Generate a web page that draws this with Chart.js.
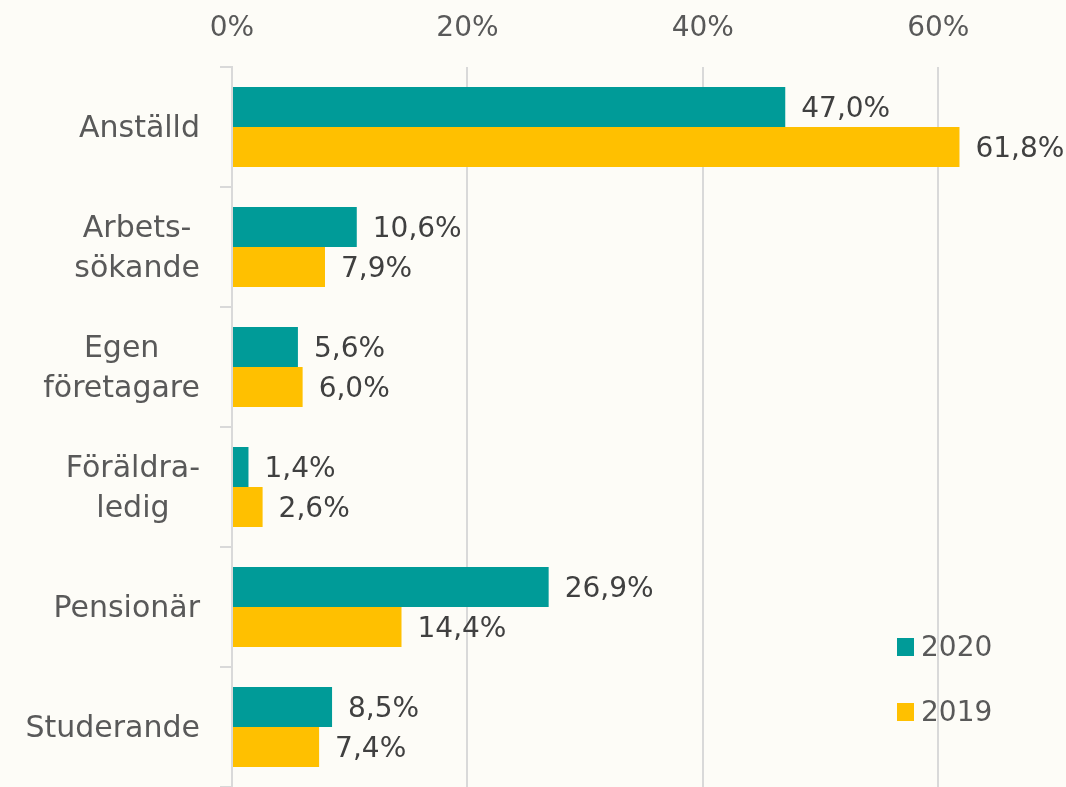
<!DOCTYPE html>
<html>
<head>
<meta charset="utf-8">
<script src="https://cdn.jsdelivr.net/npm/chart.js@4/dist/chart.umd.min.js"></script>
<style>
  body { margin: 0; background: #fdfcf7; }
  #wrap { width: 1066px; height: 787px; }
</style>
</head>
<body>
<div id="wrap"><canvas id="chart" width="1066" height="787"></canvas></div>
<script>
// data
const categories = [["Anställd"], ["Arbets-", "sökande"], ["Egen", "företagare"], ["Föräldra-", "ledig"], ["Pensionär"], ["Studerande"]];
const values2020 = [47.0, 10.6, 5.6, 1.4, 26.9, 8.5];
const values2019 = [61.8, 7.9, 6.0, 2.6, 14.4, 7.4];
const xTicks = [0, 20, 40, 60];
const seriesNames = ["2020", "2019"];

const FONT = "'DejaVu Sans', sans-serif";
const TEAL = "#009b98";
const YELLOW = "#ffc000";

// value labels at the end of each bar
const valueLabels = {
    id: "valueLabels",
    afterDatasetsDraw(chart) {
        const ctx = chart.ctx;
        ctx.save();
        ctx.font = "28px " + FONT;
        ctx.fillStyle = "#404040";
        ctx.textAlign = "left";
        ctx.textBaseline = "middle";
        chart.data.datasets.forEach((ds, di) => {
            chart.getDatasetMeta(di).data.forEach((bar, i) => {
                const txt = ds.data[i].toFixed(1).replace(".", ",") + "%";
                ctx.fillText(txt, bar.x + 16, bar.y + 3);
            });
        });
        ctx.restore();
    }
};

// category labels: block right aligned, lines centred in the block
const catLabels = {
    id: "catLabels",
    afterDraw(chart) {
        const ctx = chart.ctx;
        const y = chart.scales.y;
        ctx.save();
        ctx.font = "30px " + FONT;
        ctx.fillStyle = "#595959";
        ctx.textAlign = "center";
        ctx.textBaseline = "middle";
        categories.forEach((lines, i) => {
            const cy = y.getPixelForTick(i) + 2;
            const w = Math.max(...lines.map(l => ctx.measureText(l).width));
            const cx = y.right - 32 - w / 2;
            lines.forEach((l, j) => {
                ctx.fillText(l, cx, cy + (j - (lines.length - 1) / 2) * 40);
            });
        });
        ctx.restore();
    }
};

// legend in the lower right of the plot
const boxLegend = {
    id: "boxLegend",
    afterDraw(chart) {
        const ctx = chart.ctx;
        ctx.save();
        ctx.font = "28px " + FONT;
        ctx.textBaseline = "middle";
        ctx.textAlign = "left";
        const colors = [TEAL, YELLOW];
        const ys = [647, 712];
        seriesNames.forEach((name, i) => {
            ctx.fillStyle = colors[i];
            ctx.fillRect(897, ys[i] - 9, 17, 18);
            ctx.fillStyle = "#595959";
            ctx.fillText(name, 921, ys[i] + 2);
        });
        ctx.restore();
    }
};

const bg = {
    id: "bg",
    beforeDraw(chart) {
        const ctx = chart.ctx;
        ctx.save();
        ctx.fillStyle = "#fdfcf7";
        ctx.fillRect(0, 0, chart.width, chart.height);
        ctx.restore();
    }
};

const ctx = document.getElementById("chart").getContext("2d");

const chart = new Chart(ctx, {
    type: "bar",
    data: {
        labels: categories.map(c => c.join(" ")),
        datasets: [
            { label: seriesNames[0], data: values2020, backgroundColor: TEAL },
            { label: seriesNames[1], data: values2019, backgroundColor: YELLOW }
        ]
    },
    options: {
        indexAxis: "y",
        responsive: false,
        animation: false,
        layout: { padding: { left: 0, right: 10, top: 0, bottom: 0 } },
        datasets: { bar: { categoryPercentage: 0.667, barPercentage: 1.0 } },
        plugins: {
            legend: { display: false },
            tooltip: { enabled: false }
        },
        scales: {
            x: {
                position: "top",
                min: 0,
                max: 70,
                afterBuildTicks(scale) {
                    scale.ticks = xTicks.map(v => ({ value: v }));
                },
                afterFit(scale) { scale.height = 67; },
                border: { display: false },
                grid: { color: "#d9d9d9", lineWidth: 2, drawTicks: false },
                ticks: {
                    padding: 21,
                    color: "#595959",
                    font: { family: FONT, size: 28 },
                    callback: v => v + "%"
                }
            },
            y: {
                afterFit(scale) { scale.width = 232; },
                border: { display: true, color: "#d9d9d9", width: 2 },
                grid: { drawOnChartArea: false, color: "#d9d9d9", lineWidth: 2, tickLength: 12, offset: true },
                ticks: { display: false }
            }
        }
    },
    plugins: [bg, valueLabels, catLabels, boxLegend]
});
</script>
</body>
</html>
